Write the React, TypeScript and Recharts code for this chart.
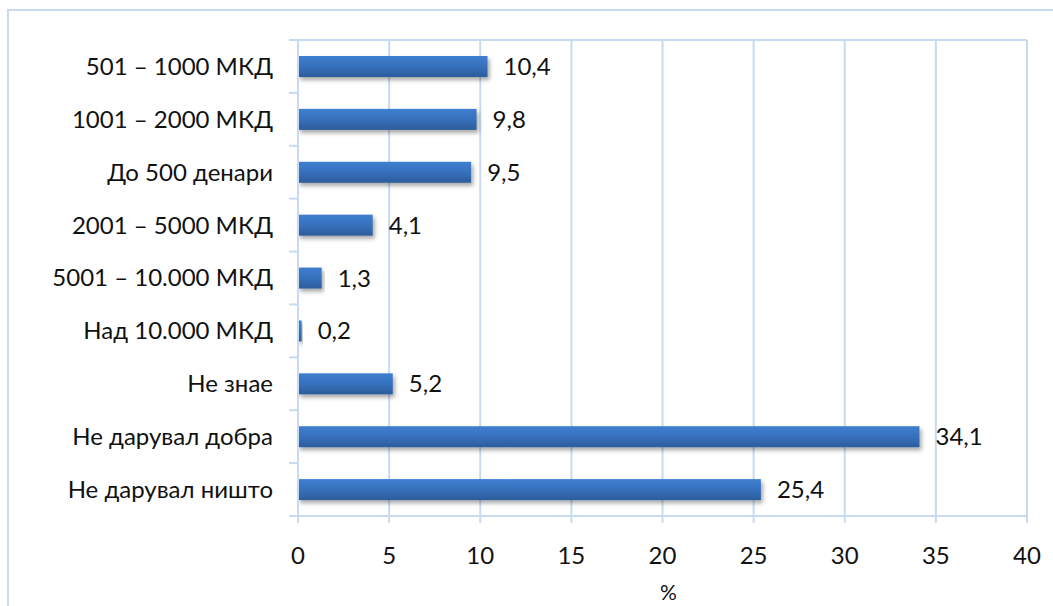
import React from "react"
import { Bar, BarChart, XAxis, YAxis, CartesianGrid, LabelList } from "recharts"

const categories = [
  "501 – 1000 МКД",
  "1001 – 2000 МКД",
  "До 500 денари",
  "2001 – 5000 МКД",
  "5001 – 10.000 МКД",
  "Над 10.000 МКД",
  "Не знае",
  "Не дарувал добра",
  "Не дарувал ништо",
]
const values = [10.4, 9.8, 9.5, 4.1, 1.3, 0.2, 5.2, 34.1, 25.4]
const xTicks = [0, 5, 10, 15, 20, 25, 30, 35, 40]

const W = 1053
const H = 606
const MARGIN = { top: 40, right: 26, bottom: 0, left: 0 }
const X_AXIS_H = 90
const Y_AXIS_W = 298
const Y_TICK_SIZE = 9
const Y_TICK_MARGIN = 16
const PLOT_H = H - MARGIN.top - MARGIN.bottom - X_AXIS_H
const BAND = PLOT_H / categories.length

const GRID = "#c8daf1"
const FONT = "Lato, 'Open Sans', sans-serif"
const FONT_SIZE = 24

const data = categories.map((name, i) => ({ name, value: values[i] }))

const fmt = (v: number) => v.toFixed(1).replace(".", ",")

function YTick(props: any) {
  const { x, y, payload, index } = props
  const axisX = x + Y_TICK_MARGIN + Y_TICK_SIZE
  const top = y - BAND / 2
  return (
    <g>
      <line x1={axisX - Y_TICK_SIZE} x2={axisX} y1={top} y2={top} stroke={GRID} strokeWidth={2} />
      {index === categories.length - 1 && (
        <line x1={axisX - Y_TICK_SIZE} x2={axisX} y1={y + BAND / 2} y2={y + BAND / 2} stroke={GRID} strokeWidth={2} />
      )}
      <text x={x} y={y} dy="0.35em" textAnchor="end" fill="#111" fontSize={FONT_SIZE} fontFamily={FONT}>
        {payload.value}
      </text>
    </g>
  )
}

function BarShape(props: any) {
  const { x, y, width, height } = props
  if (width <= 0) return null
  return <rect x={x} y={y} width={width} height={height} fill="url(#barFill)" filter="url(#barShadow)" />
}

export default function App() {
  return (
    <div style={{ position: "absolute", left: 0, top: 0, width: W, height: H, overflow: "hidden", background: "#fff" }}>
      {/* outer chart frame */}
      <div style={{ position: "absolute", left: 7, top: 9, width: 1100, height: 700, border: `2px solid ${GRID}` }} />
      <BarChart
        width={W}
        height={H}
        data={data}
        layout="vertical"
        margin={MARGIN}
        barSize={21}
        style={{ position: "absolute", left: 0, top: 0 }}
      >
        <defs>
          <linearGradient id="barFill" x1="0" y1="0" x2="0" y2="1">
            <stop offset="0%" stopColor="#3e7fd0" />
            <stop offset="45%" stopColor="#3872bf" />
            <stop offset="100%" stopColor="#2c5c9b" />
          </linearGradient>
          <filter id="barShadow" x="-5%" y="-30%" width="115%" height="180%">
            <feDropShadow dx="2" dy="3" stdDeviation="2" floodColor="#000" floodOpacity="0.35" />
          </filter>
        </defs>
        <CartesianGrid
          stroke={GRID}
          strokeWidth={2}
          horizontalCoordinatesGenerator={({ offset }: any) => [offset.top]}
        />
        <XAxis
          type="number"
          domain={[0, 40]}
          ticks={xTicks}
          height={X_AXIS_H}
          stroke={GRID}
          strokeWidth={2}
          tickSize={7}
          tickMargin={24}
          tick={{ fill: "#111", fontSize: FONT_SIZE, fontFamily: FONT }}
          label={{ value: "%", position: "insideBottom", offset: 6, dx: 6, fill: "#111", fontSize: 21, fontFamily: FONT }}
        />
        <YAxis
          type="category"
          dataKey="name"
          width={Y_AXIS_W}
          stroke={GRID}
          strokeWidth={2}
          tickLine={false}
          tickSize={Y_TICK_SIZE}
          tickMargin={Y_TICK_MARGIN}
          interval={0}
          tick={<YTick />}
        />
        <Bar dataKey="value" shape={<BarShape />} isAnimationActive={false}>
          <LabelList
            dataKey="value"
            position="right"
            offset={16}
            formatter={(v: any) => fmt(Number(v))}
            fill="#111"
            fontSize={FONT_SIZE}
            fontFamily={FONT}
          />
        </Bar>
      </BarChart>
    </div>
  )
}
